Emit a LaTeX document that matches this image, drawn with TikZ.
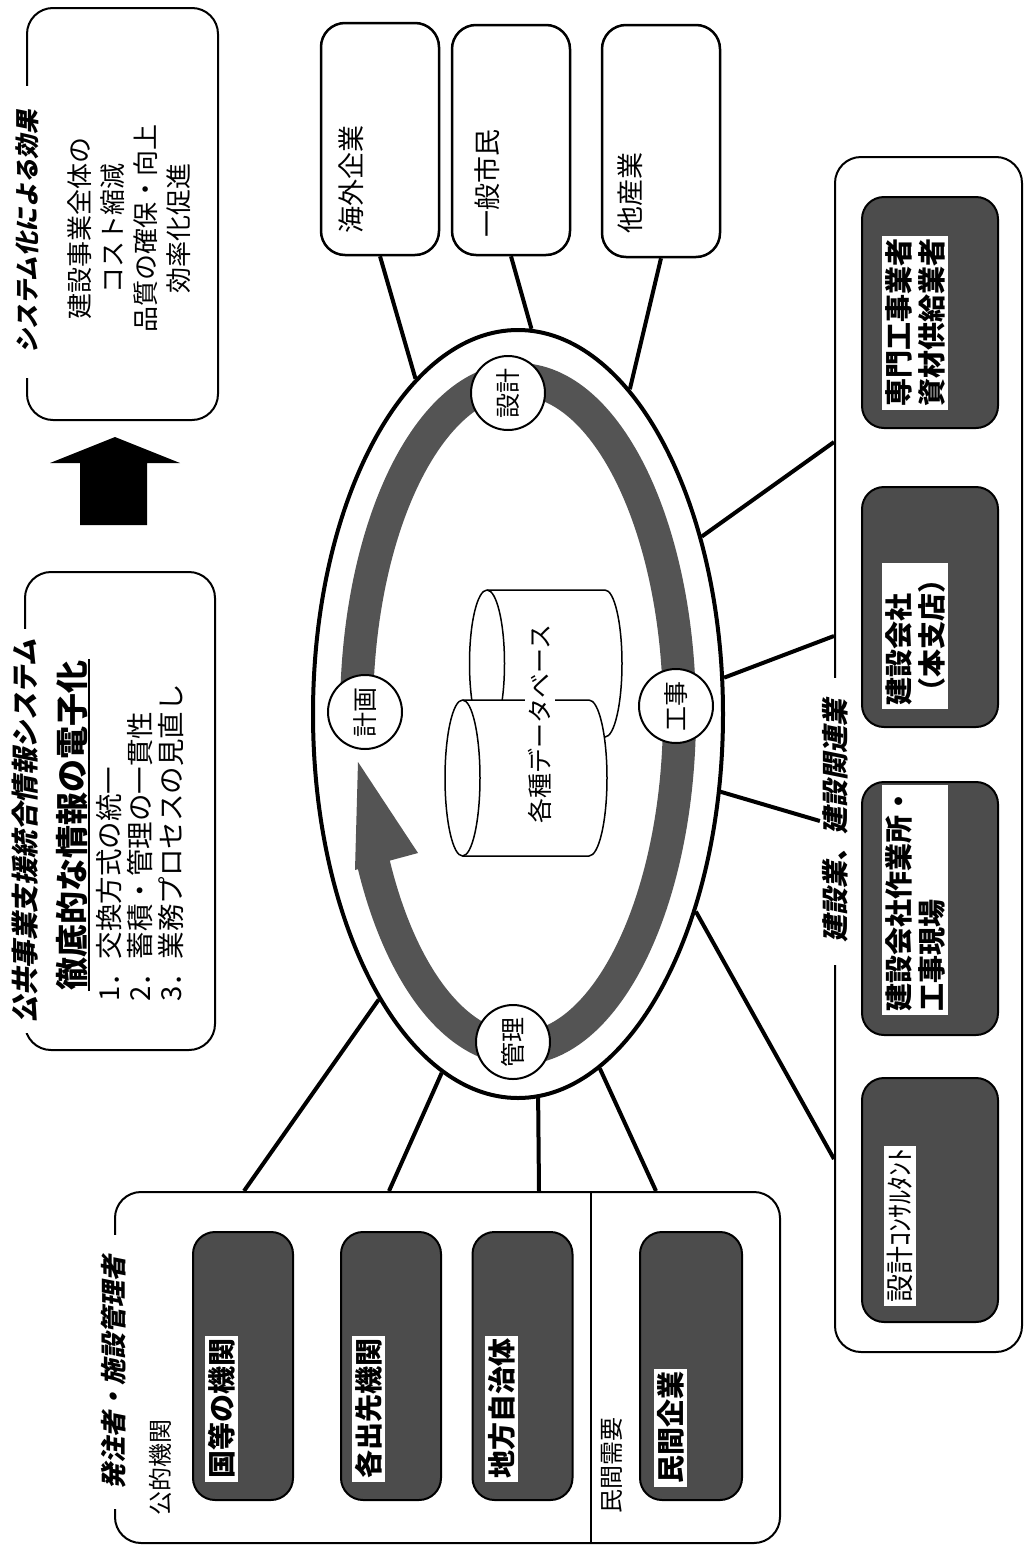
\documentclass[tikz,border=0pt]{standalone}
\usepackage{fontspec}
\setmainfont{Noto Sans CJK JP}
\newfontfamily\jpsl[FakeSlant=0.2]{Noto Sans CJK JP}
\usetikzlibrary{shapes.geometric,calc}
\definecolor{dkbox}{gray}{0.30}
\definecolor{bandc}{gray}{0.33}
\tikzset{
 grp/.style={draw, line width=2pt, rounded corners=26pt, inner sep=0pt},
 wbox/.style={draw, line width=2.5pt, rounded corners=24pt, inner sep=0pt, fill=white},
 dbox/.style={draw, line width=2pt, rounded corners=22pt, fill=dkbox, inner sep=0pt},
 lbl/.style={rotate=90, fill=white, inner sep=3pt, align=left, anchor=north west, font=\fontsize{28}{33}\selectfont\bfseries},
 grptitle/.style={rotate=90, fill=white, inner xsep=20pt, inner ysep=2pt, font=\jpsl\fontsize{26}{30}\selectfont\bfseries},
 rtext/.style={rotate=90, inner sep=0pt},
 conn/.style={line width=4pt},
 stage/.style={circle, draw, line width=2pt, fill=white, minimum size=74pt, inner sep=0pt, rotate=90, font=\fontsize{25}{28}\selectfont},
 cyl/.style={draw, line width=1.5pt, fill=white},
}
\begin{document}
\begin{tikzpicture}[x=1pt, y=-1pt]
\useasboundingbox (0,0) rectangle (1027,1545);

% ---- effect box
\node[grp, minimum width=191pt, minimum height=412pt] (eff) at (122.5,214) {};
\node[grptitle, font=\jpsl\fontsize{24.5}{28}\selectfont\bfseries, inner xsep=24pt] (efft) at (27,232) {システム化による効果};
\node[rtext, align=center, font=\fontsize{26}{33}\selectfont] (effb) at (129,228) {建設事業全体の\\コスト縮減\\品質の確保・向上\\効率化促進};

% ---- big arrow
\fill (80,525) -- (80,463) -- (50,463) -- (115,437) -- (180,463) -- (147,463) -- (147,525) -- cycle;

% ---- system box
\node[grp, minimum width=190pt, minimum height=478pt] (sys) at (120,811) {};
\node[grptitle, font=\jpsl\fontsize{27.5}{30}\selectfont\bfseries, inner xsep=10pt] (syst) at (25,831) {公共事業支援統合情報システム};
\node[rtext, inner sep=1pt, font=\fontsize{33}{36}\selectfont\bfseries] (den) at (72,825) {徹底的な情報の電子化};
\draw[line width=2pt] (den.south west) -- (den.south east);
\node[rtext, anchor=north west, align=left, font=\fontsize{27.5}{31}\selectfont] (items) at (96,1002) {1．交換方式の統一\\2．蓄積・管理の一貫性\\3．業務プロセスの見直し};

% ---- orderers box
\node[grp, minimum width=665pt, minimum height=351pt] (hb) at (447.5,1367.5) {};
\node[grptitle] (hbt) at (114,1372) {発注者・施設管理者};
\node[rtext, font=\fontsize{24}{28}\selectfont] (kt) at (160,1467) {公的機関};
\draw[line width=1.5pt] ($(hb.north west)+(477,0)$) -- ($(hb.south west)+(477,0)$);
\node[rtext, font=\fontsize{24}{28}\selectfont] (mj) at (612,1465) {民間需要};
\node[dbox, minimum width=100pt, minimum height=268pt] (A) at (243,1366) {};
\node[lbl] (Al) at (205,1482) {国等の機関};
\node[dbox, minimum width=100pt, minimum height=268pt] (B) at (391,1366) {};
\node[lbl] (Bl) at (352,1482) {各出先機関};
\node[dbox, minimum width=100pt, minimum height=268pt] (C) at (522.5,1366) {};
\node[lbl] (Cl) at (485,1482) {地方自治体};
\node[dbox, minimum width=102pt, minimum height=268pt] (D) at (691,1366) {};
\node[lbl] (Dl) at (654,1487) {民間企業};

% ---- top boxes
\node[wbox, minimum width=118pt, minimum height=232pt] (kg) at (380,139) {};
\node[rtext, anchor=north west, font=\fontsize{27}{30}\selectfont] (kgt) at (339,234) {海外企業};
\node[wbox, minimum width=118pt, minimum height=230pt] (sm) at (511,140) {};
\node[rtext, anchor=north west, font=\fontsize{27}{30}\selectfont] (smt) at (474,238) {一般市民};
\node[wbox, minimum width=118pt, minimum height=232pt] (ts) at (661,141) {};
\node[rtext, anchor=north west, font=\fontsize{27}{30}\selectfont] (tst) at (618,234) {他産業};

% ---- construction box
\node[grp, minimum width=187pt, minimum height=1195pt] (kb) at (928.5,754.5) {};
\node[grptitle, font=\jpsl\fontsize{27}{30}\selectfont\bfseries, inner xsep=22pt] (kbt) at (835,821) {建設業、建設関連業};
\node[dbox, minimum width=136pt, minimum height=231pt] (P1) at (930,312.5) {};
\node[lbl] (P1l) at (882,410) {専門工事業者\\資材供給業者};
\node[dbox, minimum width=136pt, minimum height=240pt] (P2) at (930,607) {};
\node[lbl] (P2l) at (882,709) {建設会社\\（本支店）};
\node[dbox, minimum width=136pt, minimum height=253pt] (P3) at (930,908.5) {};
\node[lbl] (P3l) at (882,1015) {建設会社作業所・\\工事現場};
\node[dbox, minimum width=136pt, minimum height=244pt] (P4) at (930,1200) {};
\node[lbl, font=\fontsize{28}{30}\selectfont] (P4l) at (884,1306) {設計ｺﾝｻﾙﾀﾝﾄ};

% ---- central ellipse
\node[ellipse, draw, line width=4pt, fill=white, minimum width=410pt, minimum height=768pt, inner sep=0pt] (ell) at (518,714) {};
\draw[line width=33pt, bandc] ([xshift=-161.5pt]ell.center) arc[start angle=180, end angle=-154.5, x radius=161.5pt, y radius=334.5pt];
\fill[bandc] (355,870) -- (358,762) -- (418,853) -- cycle;

% ---- connectors
\draw[conn] (kg.south) -- (ell.107.8);
\draw[conn] (sm.south) -- (ell.88.2);
\draw[conn] (ts.south) -- (ell.71.8);
\draw[conn] (ell.44.8) -- ($(kb.north west)+(0,286)$);
\draw[conn] (ell.10.7) -- ($(kb.north west)+(0,480)$);
\draw[conn] (ell.339.1) -- (kbt.north);
\draw[conn] (ell.312) -- ($(kb.north west)+(0,1003)$);
\draw[conn] (ell.244.3) -- ($(hb.north west)+(130,0)$);
\draw[conn] (ell.258.9) -- ($(hb.north west)+(275,0)$);
\draw[conn] (ell.273.3) -- ($(hb.north west)+(425,0)$);
\draw[conn] (ell.283.9) -- ($(hb.north west)+(542,0)$);

% ---- stage circles
\node[stage] (keikaku) at (365,712) {計画};
\node[stage] (kouji) at (676,706) {工事};
\node[stage] (sekkei) at (508,393) {設計};
\node[stage] (kanri) at (513,1042) {管理};

% ---- databases
\draw[cyl] (487,590) -- (605,590) arc[start angle=90, end angle=-90, x radius=17pt, y radius=73.5pt] -- (487,737) arc[start angle=270, end angle=90, x radius=17.5pt, y radius=73.5pt] -- cycle;
\draw[line width=1.5pt] (487,590) arc[start angle=90, end angle=-90, x radius=17.5pt, y radius=73.5pt];
\draw[cyl] (462.5,700) -- (589,700) arc[start angle=90, end angle=-90, x radius=18pt, y radius=78pt] -- (462.5,856) arc[start angle=270, end angle=90, x radius=17.5pt, y radius=78pt] -- cycle;
\draw[line width=1.5pt] (462.5,700) arc[start angle=90, end angle=-90, x radius=17.5pt, y radius=78pt];
\node[rtext, fill=white, inner sep=3pt, font=\fontsize{25}{28}\selectfont] (db) at (540,724) {各種データベース};
\end{tikzpicture}
\end{document}
